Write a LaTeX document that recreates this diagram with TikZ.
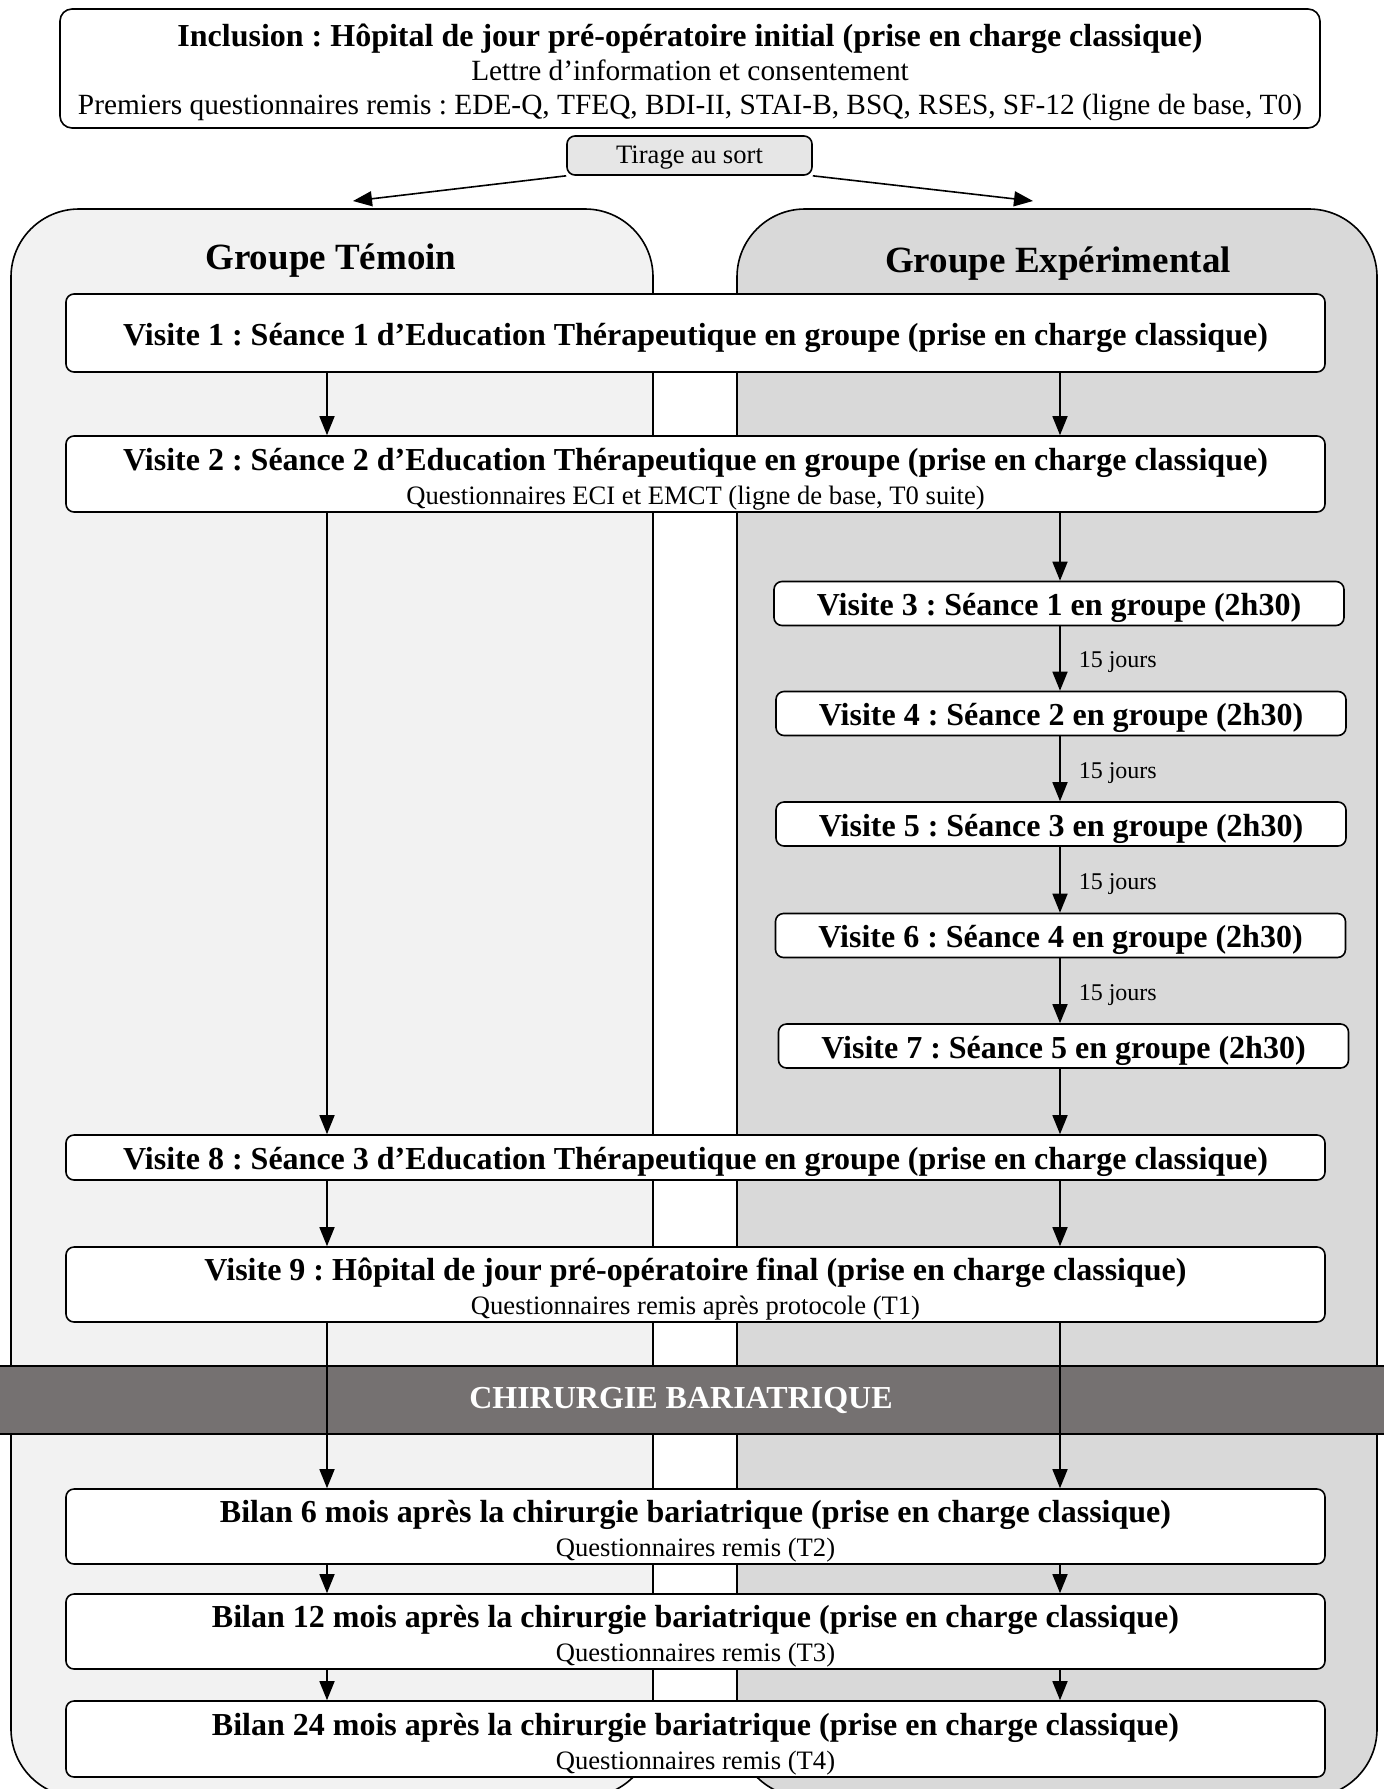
\documentclass[tikz,border=0pt]{standalone}
\usepackage{fontspec}
\setmainfont{Liberation Serif}
\usepackage{tikz}
\usetikzlibrary{arrows.meta}

\definecolor{temoin}{HTML}{F2F2F2}
\definecolor{expe}{HTML}{D9D9D9}
\definecolor{bande}{HTML}{757171}
\definecolor{tirgris}{HTML}{E6E6E6}

\newcommand{\petit}{\fontsize{13.3}{14}\selectfont\mdseries}
\newcommand{\moyen}{\fontsize{14.67}{15}\selectfont\mdseries}

\tikzset{
  etape/.style={draw, fill=white, rounded corners=4pt, line width=0.8pt,
    align=center, inner sep=0pt, text height=15pt, text depth=2.6pt,
    font=\fontsize{16}{17}\selectfont\bfseries\frenchspacing},
  large/.style={etape, minimum width=629.5pt},
  deux/.style={large, text height=30pt, text depth=0pt},
  court/.style={etape, minimum width=285pt, minimum height=22pt},
  fleche/.style={line width=0.8pt, -{Triangle[length=9.5pt,width=7.5pt]}},
  groupe/.style={draw, line width=0.8pt, rounded corners=34pt},
  titre/.style={font=\fontsize{18.5}{20}\selectfont\bfseries},
  jours/.style={right=9pt, yshift=-2pt, inner sep=0pt, font=\fontsize{12}{13}\selectfont}
}

\begin{document}
\begin{tikzpicture}[x=0.5pt, y=-0.5pt]
        \useasboundingbox (0,0) rectangle (1384,1789);
        \clip (0,0) rectangle (1384,1789);

        \draw[groupe, fill=temoin] (11,209) rectangle (653,1797);
        \draw[groupe, fill=expe] (737,209) rectangle (1377,1797);
        \node[titre] (gT) at (331,261) {Groupe Témoin};
        \node[titre] (gE) at (1058,264) {Groupe Expérimental};

        \node[draw, line width=0.8pt, fill=bande, text=white, minimum width=740pt,
        minimum height=34pt, font=\fontsize{16}{17}\selectfont\bfseries]
        (chir) at (681,1400) {CHIRURGIE BARIATRIQUE};

        \node[large, minimum width=630pt, minimum height=59.5pt, rounded corners=6pt,
        text height=47.5pt, text depth=2pt] (incl) at (690,68.5)
        {Inclusion : Hôpital de jour pré-opératoire initial (prise en charge classique)\\
        {\moyen Lettre d’information et consentement}\\
        {\moyen Premiers questionnaires remis : EDE-Q, TFEQ, BDI-II, STAI-B, BSQ, RSES, SF-12 (ligne de base, T0)}};
        \node[etape, fill=tirgris, minimum width=122.5pt, minimum height=19.5pt,
        text height=11pt, text depth=3pt, font=\petit] (tirage) at (689.5,155.5) {Tirage au sort};

        \node[large, minimum height=39pt] (v1) at (695.5,333)
        {Visite 1 : Séance 1 d’Education Thérapeutique en groupe (prise en charge classique)};
        \node[deux, minimum height=38pt] (v2) at (695.5,474)
        {Visite 2 : Séance 2 d’Education Thérapeutique en groupe (prise en charge classique)\\
        {\petit Questionnaires ECI et EMCT (ligne de base, T0 suite)}};

        \node[court] (v3) at (1059,603.5) {Visite 3 : Séance 1 en groupe (2h30)};
        \node[court] (v4) at (1061,713.5) {Visite 4 : Séance 2 en groupe (2h30)};
        \node[court] (v5) at (1061,824) {Visite 5 : Séance 3 en groupe (2h30)};
        \node[court] (v6) at (1060.5,935.5) {Visite 6 : Séance 4 en groupe (2h30)};
        \node[court] (v7) at (1063.5,1046) {Visite 7 : Séance 5 en groupe (2h30)};

        \node[large, minimum height=22.5pt] (v8) at (695.5,1157.5)
        {Visite 8 : Séance 3 d’Education Thérapeutique en groupe (prise en charge classique)};
        \node[deux, minimum height=37.5pt] (v9) at (695.5,1284.5)
        {Visite 9 : Hôpital de jour pré-opératoire final (prise en charge classique)\\
        {\petit Questionnaires remis après protocole (T1)}};

        \node[deux, minimum height=37.5pt] (b6) at (695.5,1526.5)
        {Bilan 6 mois après la chirurgie bariatrique (prise en charge classique)\\
        {\petit Questionnaires remis (T2)}};
        \node[deux, minimum height=37.5pt] (b12) at (695.5,1631.5)
        {Bilan 12 mois après la chirurgie bariatrique (prise en charge classique)\\
        {\petit Questionnaires remis (T3)}};
        \node[deux, minimum height=38pt] (b24) at (695.5,1739)
        {Bilan 24 mois après la chirurgie bariatrique (prise en charge classique)\\
        {\petit Questionnaires remis (T4)}};

        \coordinate (aT) at (353,201);
        \coordinate (aE) at (1033,201);
        \coordinate (colL) at (327,0);
        \coordinate (colR) at (1060,0);

        \draw[fleche] (tirage.south west) -- (aT);
        \draw[fleche] (tirage.south east) -- (aE);

        \draw[fleche] (v1.south -| colL) -- (v2.north -| colL);
        \draw[fleche] (v1.south -| colR) -- (v2.north -| colR);
        \draw[fleche] (v2.south -| colL) -- (v8.north -| colL);
        \draw[fleche] (v2.south -| colR) -- (v3.north -| colR);
        \foreach \a/\b in {v3/v4, v4/v5, v5/v6, v6/v7}
        \draw[fleche] (\a.south -| colR) -- node[jours] (j\a) {15 jours} (\b.north -| colR);
        \draw[fleche] (v7.south -| colR) -- (v8.north -| colR);
        \foreach \a/\b in {v8/v9, v9/b6, b6/b12, b12/b24} {
            \draw[fleche] (\a.south -| colL) -- (\b.north -| colL);
            \draw[fleche] (\a.south -| colR) -- (\b.north -| colR);
        }
    \end{tikzpicture}
\end{document}
